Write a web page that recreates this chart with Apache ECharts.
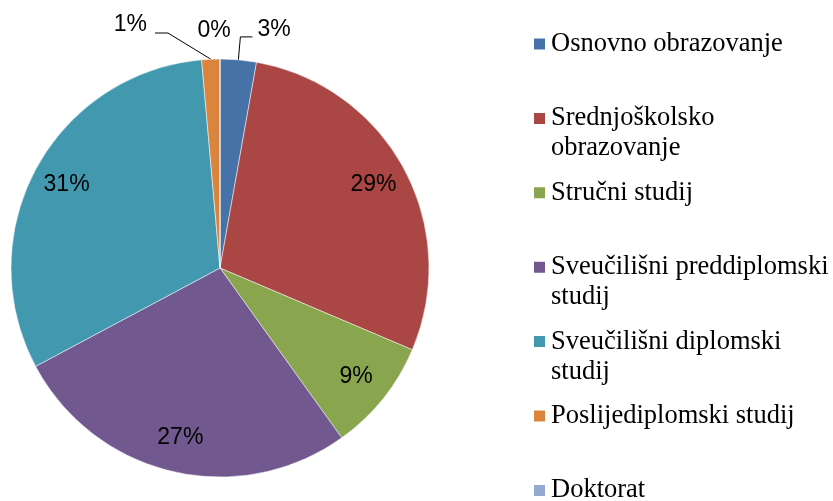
<!DOCTYPE html>
<html>
<head>
<meta charset="utf-8">
<script src="https://cdn.jsdelivr.net/npm/echarts@6/dist/echarts.min.js"></script>
<style>
  html, body { margin: 0; padding: 0; background: #fff; }
  #chart { width: 833px; height: 501px; }
</style>
</head>
<body>
<div id="chart"></div>
<script>
// kategorije i udjeli (%)
const categories = [
  'Osnovno obrazovanje',
  'Srednjoškolsko obrazovanje',
  'Stručni studij',
  'Sveučilišni preddiplomski studij',
  'Sveučilišni diplomski studij',
  'Poslijediplomski studij',
  'Doktorat'
]
const shares = [2.8, 28.6, 8.7, 27.1, 31.4, 1.4, 0]
const legendLabels = [
  'Osnovno obrazovanje',
  'Srednjoškolsko\nobrazovanje',
  'Stručni studij',
  'Sveučilišni preddiplomski\nstudij',
  'Sveučilišni diplomski\nstudij',
  'Poslijediplomski studij',
  'Doktorat'
]
const colors = ['#4572A7', '#AA4643', '#89A54E', '#71588F', '#4198AF', '#DB843D', '#93A9CF']

const CENTER = [220, 268]
const R = 209
const LINE_H = 30
const LEGEND_Y0 = 44
const LEGEND_STEP = 74.4

const pct = (p) => Math.round(p.percent) + '%'
const labelFont = { fontFamily: 'Liberation Sans', fontSize: 23, color: '#000' }

const chart = echarts.init(document.getElementById('chart'))

// legenda - svaka stavka zasebno da razmak bude jednak
const legends = categories.map((name, i) => {
  const multi = legendLabels[i].indexOf('\n') >= 0
  const text = multi ? '\n' + legendLabels[i] : legendLabels[i]
  const blockH = (multi ? 3 : 1) * LINE_H
  return {
    data: [name],
    orient: 'vertical',
    left: 532,
    top: LEGEND_Y0 + i * LEGEND_STEP - blockH / 2,
    padding: 0,
    itemWidth: 13,
    itemHeight: 13,
    icon: 'rect',
    selectedMode: false,
    formatter: () => text,
    textStyle: {
      fontFamily: 'Liberation Serif',
      fontSize: 26.5,
      lineHeight: LINE_H,
      color: '#000'
    }
  }
})

// male oznake iznad kruga (kao u Excelu)
const smallLabelLayout = (p) => {
  const pts = p.labelLinePoints
  if (p.dataIndex === 0) {
    // tekst malo iznad vodoravne crte
    return { y: p.labelRect.y + p.labelRect.height / 2 - 7, labelLinePoints: pts }
  }
  if (p.dataIndex === 5) {
    const xr = 147, yc = 25
    return {
      x: xr,
      y: yc,
      labelLinePoints: [pts[0], [xr + 21, yc + 8], [xr + 8, yc + 8]]
    }
  }
  if (p.dataIndex === 6) return { x: 214, y: 31, align: 'center' }
}

const option = {
  animation: false,
  legend: legends,
  series: [
    {
      type: 'pie',
      center: CENTER,
      radius: R,
      startAngle: 90,
      clockwise: true,
      avoidLabelOverlap: false,
      itemStyle: { borderColor: '#fff', borderWidth: 0.5 },
      label: Object.assign({ position: 'outside', formatter: pct }, labelFont),
      labelLine: {
        length: 23,
        length2: 12,
        lineStyle: { color: '#000', width: 1 }
      },
      data: categories.map((name, i) => ({
        name,
        value: shares[i],
        itemStyle: { color: colors[i] },
        label: { show: shares[i] < 5 },
        labelLine: { show: shares[i] < 5 && shares[i] > 0 }
      })),
      labelLayout: smallLabelLayout
    },
    {
      // prozirni prsten samo za oznake unutar isječaka
      type: 'pie',
      center: CENTER,
      radius: [134, R],
      startAngle: 90,
      clockwise: true,
      silent: true,
      legendHoverLink: false,
      itemStyle: { color: 'rgba(0,0,0,0)' },
      label: Object.assign({ position: 'inside', formatter: pct }, labelFont),
      labelLine: { show: false },
      data: categories.map((name, i) => ({
        name,
        value: shares[i],
        label: { show: shares[i] >= 5 }
      }))
    }
  ]
}

chart.setOption(option)
</script>
</body>
</html>
